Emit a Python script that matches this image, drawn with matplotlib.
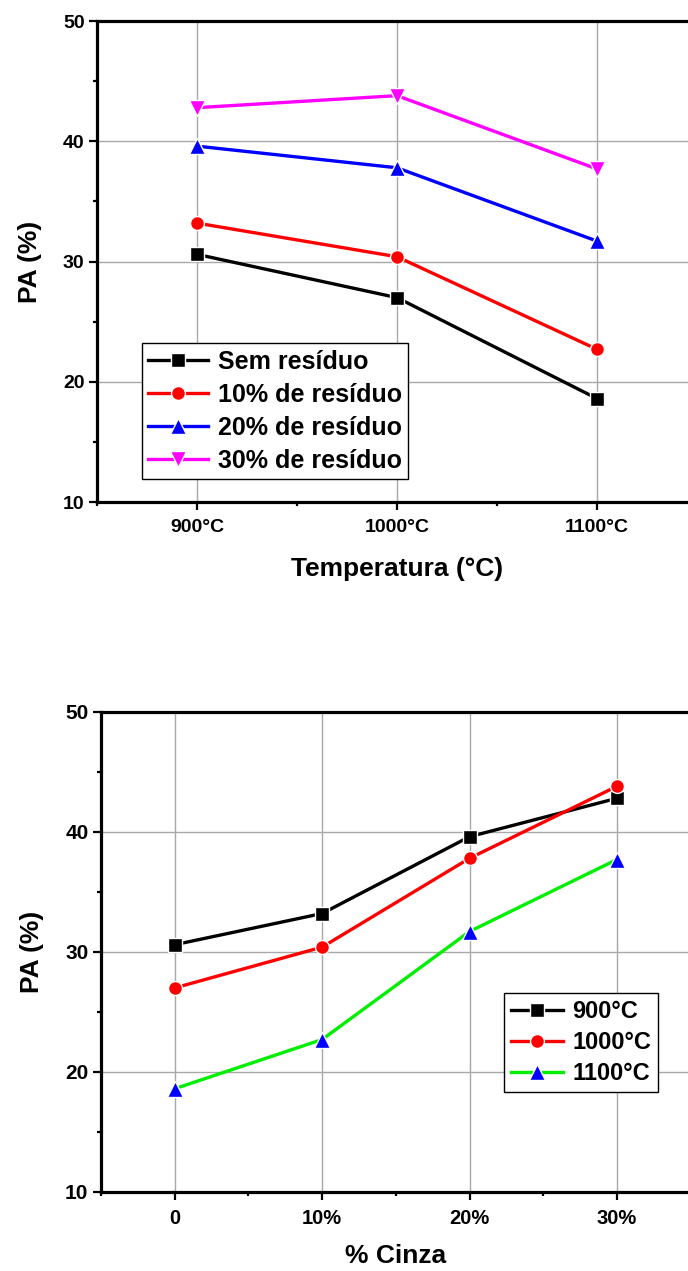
import numpy as np
import matplotlib
matplotlib.use('Agg')
from matplotlib import pyplot as plt
from matplotlib.ticker import MultipleLocator

plt.rcParams['font.family'] = ['Liberation Sans', 'DejaVu Sans']
plt.rcParams['font.weight'] = 'bold'

# data (PA %)
temps = ['900°C', '1000°C', '1100°C']
residuos = ['0', '10%', '20%', '30%']
res_labels = ['Sem resíduo', '10% de resíduo', '20% de resíduo', '30% de resíduo']
pa_900 = [30.6, 33.2, 39.6, 42.8]
pa_1000 = [27.0, 30.4, 37.8, 43.8]
pa_1100 = [18.6, 22.7, 31.7, 37.7]

fig = plt.figure(figsize=(6.88, 12.71), dpi=100)

msize = {'s': 9.5, 'o': 10, '^': 12, 'v': 12}


def style_axes(ax, xlabel, xtick_size, ytick_size, xlabelpad):
    for s in ['left', 'bottom', 'top']:
        ax.spines[s].set_linewidth(2.3)
    ax.spines['right'].set_visible(False)
    ax.set_ylim(10, 50)
    ax.yaxis.set_major_locator(MultipleLocator(10))
    ax.yaxis.set_minor_locator(MultipleLocator(5))
    ax.xaxis.set_minor_locator(MultipleLocator(0.5))
    ax.tick_params(which='major', direction='out', length=6, width=1.6, top=False, right=False)
    ax.tick_params(which='minor', direction='out', length=3, width=1.6, top=False, right=False)
    ax.tick_params(axis='x', which='major', labelsize=xtick_size, pad=6)
    ax.tick_params(axis='y', which='major', labelsize=ytick_size, pad=3)
    ax.grid(True, which='major', color='#a8a8a8', linewidth=1.0)
    ax.set_axisbelow(True)
    ax.set_xlabel(xlabel, fontsize=19, fontweight='bold', labelpad=xlabelpad)
    ax.set_ylabel('PA (%)', fontsize=19, fontweight='bold', labelpad=15)
    for lab in ax.get_xticklabels() + ax.get_yticklabels():
        lab.set_fontweight('bold')


# ---- top: PA vs temperature ----
ax1 = fig.add_axes([0.141, 0.605, 1.163, 0.3784])
x1 = np.arange(len(temps))
by_res = np.array([pa_900, pa_1000, pa_1100]).T
colors1 = ['black', 'red', 'blue', 'magenta']
markers1 = ['s', 'o', '^', 'v']
for vals, lab, c, m in zip(by_res, res_labels, colors1, markers1):
    ax1.plot(x1, vals, color=c, marker=m, markersize=msize[m], linewidth=2.4,
             markeredgecolor='white', markeredgewidth=1.0, markerfacecolor=c, label=lab)
ax1.set_xlim(-0.5, 3.5)
ax1.set_xticks(x1)
ax1.set_xticklabels(temps)
style_axes(ax1, 'Temperatura (°C)', 14, 14, 15)
ax1.xaxis.label.set_x(0.375)  # centred under the visible part
leg1 = ax1.legend(loc='lower left', bbox_to_anchor=(0.056, 0.048), borderaxespad=0,
                  fancybox=False, edgecolor='black', framealpha=1,
                  handlelength=2.4, handletextpad=0.4, labelspacing=0.36,
                  borderpad=0.25, prop={'weight': 'bold', 'size': 18})
leg1.get_frame().set_linewidth(1.0)

# ---- bottom: PA vs residue content ----
ax2 = fig.add_axes([0.1468, 0.0622, 0.857, 0.3777])
x2 = np.arange(len(residuos))
series2 = [pa_900, pa_1000, pa_1100]
line_cols = ['black', 'red', '#00ee00']
mark_cols = ['black', 'red', 'blue']
markers2 = ['s', 'o', '^']
for vals, lab, lc, mc, m in zip(series2, temps, line_cols, mark_cols, markers2):
    ax2.plot(x2, vals, color=lc, marker=m, markersize=msize[m], linewidth=2.4,
             markeredgecolor='white', markeredgewidth=1.0, markerfacecolor=mc, label=lab)
ax2.set_xlim(-0.5, 3.5)
ax2.set_xticks(x2)
ax2.set_xticklabels(residuos)
style_axes(ax2, '% Cinza', 14.5, 15, 12)
leg2 = ax2.legend(loc='upper right', bbox_to_anchor=(0.945, 0.415), borderaxespad=0,
                  fancybox=False, edgecolor='black', framealpha=1,
                  handlelength=2.2, handletextpad=0.4, labelspacing=0.34,
                  borderpad=0.3, prop={'weight': 'bold', 'size': 17})
leg2.get_frame().set_linewidth(1.0)

fig.savefig('out.png', dpi=100)
